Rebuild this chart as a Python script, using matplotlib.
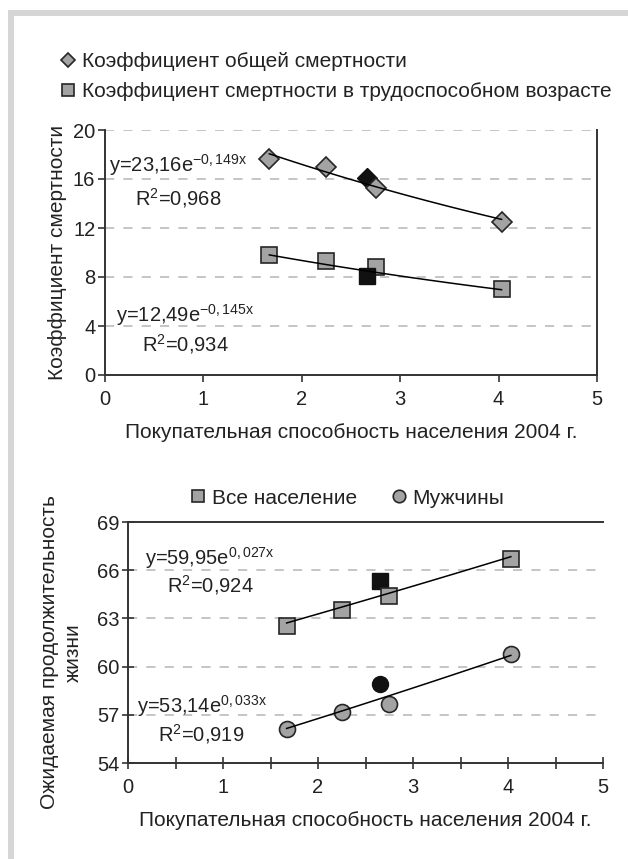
import numpy as np
import matplotlib
matplotlib.use('Agg')
import matplotlib.pyplot as plt
from matplotlib.lines import Line2D
from matplotlib.patches import Rectangle

plt.rcParams['font.family'] = ['Liberation Sans', 'DejaVu Sans']
plt.rcParams['mathtext.fontset'] = 'custom'
plt.rcParams['mathtext.rm'] = 'Liberation Sans'
plt.rcParams['mathtext.it'] = 'Liberation Sans'
plt.rcParams['mathtext.sf'] = 'Liberation Sans'
plt.rcParams['mathtext.default'] = 'regular'

# ---------------- data ----------------
purchasing_power = [1.67, 2.25, 2.75, 4.03]
total_mortality = [17.6, 17.0, 15.3, 12.5]
working_mortality = [9.8, 9.3, 8.8, 7.0]
highlight_x_top = [2.66]
highlight_total = [16.1]
highlight_working = [8.1]

life_all = [62.5, 63.5, 64.4, 66.7]
life_men = [56.1, 57.2, 57.7, 60.8]
highlight_x_bottom = [2.65]
highlight_life_all = [65.3]
highlight_life_men = [58.9]

trend_total = (23.16, -0.149)
trend_working = (12.49, -0.145)
trend_all = (59.95, 0.027)
trend_men = (53.14, 0.033)

legend_top = ['Коэффициент общей смертности',
              'Коэффициент смертности в трудоспособном возрасте']
legend_bottom = ['Все население', 'Мужчины']
xlabel = 'Покупательная способность населения 2004 г.'
ylabel_top = 'Коэффициент смертности'
ylabel_bottom = 'Ожидаемая продолжительность\nжизни'

eq_total = 'y=23,16e$^{-0,149x}$'
r2_total = 'R$^{2}$=0,968'
eq_working = 'y=12,49e$^{-0,145x}$'
r2_working = 'R$^{2}$=0,934'
eq_all = 'y=59,95e$^{0,027x}$'
r2_all = 'R$^{2}$=0,924'
eq_men = 'y=53,14e$^{0,033x}$'
r2_men = 'R$^{2}$=0,919'

# ---------------- style ----------------
W, H = 628, 859
FS = 15
FS_TICK = 14.5
FS_EQ = 14.5
GREY = '#a3a3a3'
EDGE = '#262626'
DARK = '#111111'
TXT = '#222222'
SPINE = '#333333'
GRID = '#b5b5b5'

fig = plt.figure(figsize=(W / 100, H / 100), dpi=100)
fig.patch.set_facecolor('white')

# L-shaped grey frame
fig.add_artist(Rectangle((8 / W, 0), 6 / W, (H - 10) / H, transform=fig.transFigure,
                         color='#d6d6d6', lw=0))
fig.add_artist(Rectangle((8 / W, 1 - 16 / H), 1, 6 / H, transform=fig.transFigure,
                         color='#d6d6d6', lw=0))


def trend(ax, xs, coef):
    a, b = coef
    xx = np.linspace(min(xs), max(xs), 60)
    ax.plot(xx, a * np.exp(b * xx), color='black', lw=1.1, zorder=5)


def style_axes(ax, direction, length, pad):
    for s in ax.spines.values():
        s.set_color(SPINE)
        s.set_linewidth(1.4)
    ax.tick_params(which='both', direction=direction, length=length, width=1.2,
                   color=SPINE, labelcolor=TXT, labelsize=FS_TICK)
    ax.tick_params(axis='x', which='both', pad=pad)
    ax.tick_params(axis='y', which='both', pad=2)
    ax.yaxis.grid(True, linestyle=(0, (6, 6)), color=GRID, lw=1.1)
    ax.set_axisbelow(True)


def eq(ax, x, y, s):
    ax.text(x, y, s, transform=ax.transAxes, fontsize=FS_EQ, color=TXT,
            va='center', ha='left')


# ---------------- top chart ----------------
ax1 = fig.add_axes([105 / W, 1 - 375 / H, 492 / W, 245 / H])
style_axes(ax1, 'out', 5, 6)
ax1.spines['top'].set_visible(False)
ax1.set_xlim(0, 5)
ax1.set_ylim(0, 20)
ax1.set_xticks(range(0, 6))
ax1.set_yticks(range(0, 21, 4))

ax1.plot(highlight_x_top, highlight_total, ls='none', marker='D', ms=10.5,
         mfc=DARK, mec=DARK, zorder=3)
ax1.plot(purchasing_power, total_mortality, ls='none', marker='D', ms=10.5,
         mfc=GREY, mec=EDGE, mew=1.2, zorder=3)
ax1.plot(purchasing_power, working_mortality, ls='none', marker='s', ms=11.5,
         mfc=GREY, mec=EDGE, mew=1.2, zorder=3)
ax1.plot(highlight_x_top, highlight_working, ls='none', marker='s', ms=11.5,
         mfc=DARK, mec=DARK, zorder=3)
trend(ax1, purchasing_power, trend_total)
trend(ax1, purchasing_power, trend_working)

eq(ax1, 0.008, 0.857, eq_total)
eq(ax1, 0.061, 0.722, r2_total)
eq(ax1, 0.022, 0.245, eq_working)
eq(ax1, 0.075, 0.127, r2_working)

ax1.set_xlabel(xlabel, fontsize=FS, color=TXT)
ax1.xaxis.set_label_coords(0.5, -48 / 245)
ax1.set_ylabel(ylabel_top, fontsize=FS, color=TXT)
ax1.yaxis.set_label_coords(-38 / 492, 0.5)

h_top = [Line2D([], [], ls='none', marker='D', ms=7, mfc=GREY, mec=EDGE, mew=1.2),
         Line2D([], [], ls='none', marker='s', ms=8.5, mfc=GREY, mec=EDGE, mew=1.2)]
fig.legend(h_top, legend_top, loc='upper left', bbox_to_anchor=(60 / W, 1 - 52 / H),
           frameon=False, fontsize=FS, handlelength=0.8, handletextpad=0.25,
           labelspacing=0.55, borderpad=0, borderaxespad=0, labelcolor=TXT)

# ---------------- bottom chart ----------------
ax2 = fig.add_axes([128 / W, 1 - 763 / H, 475 / W, 241 / H])
style_axes(ax2, 'inout', 8, 7)
ax2.spines['right'].set_visible(False)
ax2.set_xlim(0, 5)
ax2.set_ylim(54, 69)
ax2.set_xticks(range(0, 6))
ax2.set_xticks(np.arange(0.5, 5, 1.0), minor=True)
ax2.set_yticks(range(54, 70, 3))

ax2.plot(highlight_x_bottom, highlight_life_all, ls='none', marker='s', ms=11.5,
         mfc=DARK, mec=DARK, zorder=3)
ax2.plot(purchasing_power, life_all, ls='none', marker='s', ms=11.5,
         mfc=GREY, mec=EDGE, mew=1.2, zorder=3)
ax2.plot(highlight_x_bottom, highlight_life_men, ls='none', marker='o', ms=11.5,
         mfc=DARK, mec=DARK, zorder=3)
ax2.plot(purchasing_power, life_men, ls='none', marker='o', ms=11.5,
         mfc=GREY, mec=EDGE, mew=1.2, zorder=3)
trend(ax2, purchasing_power, trend_all)
trend(ax2, purchasing_power, trend_men)

eq(ax2, 0.036, 0.851, eq_all)
eq(ax2, 0.082, 0.739, r2_all)
eq(ax2, 0.019, 0.237, eq_men)
eq(ax2, 0.063, 0.120, r2_men)

ax2.set_xlabel(xlabel, fontsize=FS, color=TXT)
ax2.xaxis.set_label_coords(0.5, -48 / 241)
ax2.set_ylabel(ylabel_bottom, fontsize=FS, color=TXT, linespacing=1.35)
ax2.yaxis.set_label_coords(-45 / 475, 0.46)

h_bot = [Line2D([], [], ls='none', marker='s', ms=8.5, mfc=GREY, mec=EDGE, mew=1.2),
         Line2D([], [], ls='none', marker='o', ms=9, mfc=GREY, mec=EDGE, mew=1.2)]
fig.legend(h_bot, legend_bottom, loc='center left', bbox_to_anchor=(190 / W, 1 - 498 / H),
           ncol=2, frameon=False, fontsize=FS, handlelength=0.8, handletextpad=0.25,
           columnspacing=1.6, borderpad=0, borderaxespad=0, labelcolor=TXT)

fig.savefig('out.png', dpi=100, facecolor='white')
